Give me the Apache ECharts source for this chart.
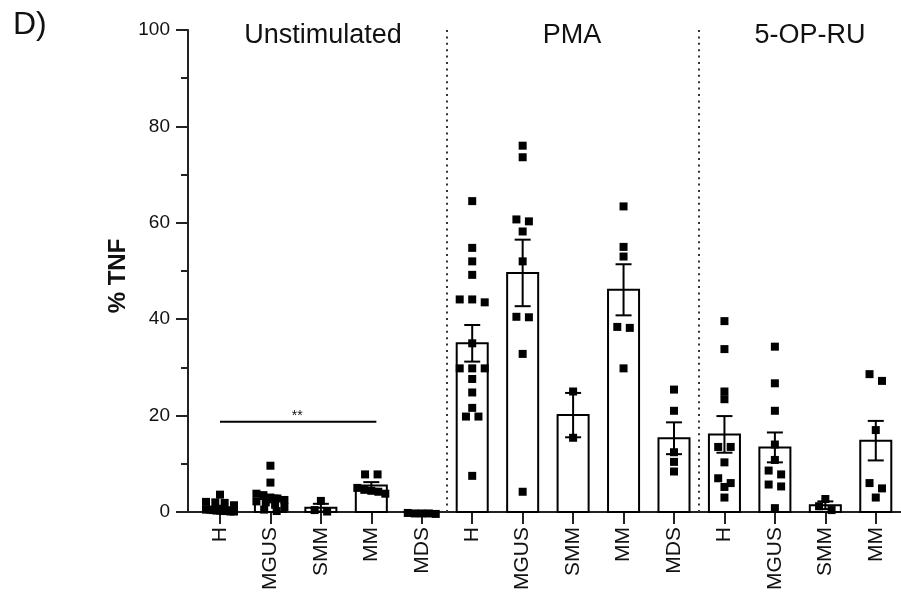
<!DOCTYPE html>
<html>
<head>
<meta charset="utf-8">
<script src="https://cdn.jsdelivr.net/npm/echarts@6/dist/echarts.min.js"></script>
<style>
  html, body { margin: 0; padding: 0; background: #fff; }
  #chart { width: 901px; height: 608px; }
</style>
</head>
<body>
<div id="chart"></div>
<script>
// Category axis: three stimulation conditions, patient groups within each
const categories = ['H', 'MGUS', 'SMM', 'MM', 'MDS', 'H', 'MGUS', 'SMM', 'MM', 'MDS', 'H', 'MGUS', 'SMM', 'MM'];
const conditions = ['Unstimulated', 'PMA', '5-OP-RU'];
const yTicks = [0, 20, 40, 60, 80, 100];

// Bar heights (mean % TNF) and error bars (SEM), one per category
const meanTNF = [1.0, 2.7, 0.9, 5.5, -0.3, 35.0, 49.6, 20.1, 46.1, 15.3, 16.1, 13.4, 1.4, 14.8];
const semTNF  = [0.3, 0.7, 0.8, 0.7, 0.05, 3.8, 6.9, 4.6, 5.3, 3.3, 3.8, 3.1, 0.8, 4.1];

// Individual donors, % TNF
const unstimPoints = [
  [3.6, 2.1, 2.0, 1.9, 1.4, 0.5, 0.5, 0.4, 0.3, 0.3, 0.2, 0.2, 0.1, 0.1],
  [9.6, 6.1, 3.8, 3.5, 3.0, 2.8, 2.5, 2.2, 2.0, 1.5, 1.0, 0.5, 0.2],
  [2.3, 0.4, 0.1],
  [7.8, 7.8, 5.0, 4.6, 4.4, 4.2, 3.8],
  [-0.2, -0.3, -0.3, -0.3, -0.4]
];
const pmaPoints = [
  [64.5, 54.8, 52.0, 49.2, 44.1, 44.1, 43.5, 35.0, 29.8, 29.8, 29.8, 27.6, 24.8, 21.6, 19.8, 19.8, 7.5],
  [76.0, 73.6, 60.7, 60.3, 58.2, 52.0, 40.5, 40.4, 32.8, 4.2],
  [25.0, 15.4],
  [63.4, 55.0, 53.0, 38.4, 38.2, 29.8],
  [25.4, 21.0, 12.4, 10.4, 8.4]
];
const opruPoints = [
  [39.6, 33.8, 25.0, 23.4, 13.5, 13.5, 10.3, 7.0, 6.0, 5.2, 3.0],
  [34.3, 26.7, 21.0, 14.0, 10.8, 8.6, 7.8, 5.7, 5.3, 0.8],
  [2.7, 1.2, 0.4],
  [28.6, 27.2, 17.0, 6.0, 4.9, 3.0]
];

// Significance bar between unstimulated H and MM
const sigFrom = 0, sigTo = 3.1, sigLevel = 18.7, sigText = '**';
// Boundaries between conditions
const dividers = [4.5, 9.5];

const FONT = '"Liberation Sans", Arial, Helvetica, sans-serif';
const INK = '#111';
const catIdx = categories.map((_, i) => i);

const chart = echarts.init(document.getElementById('chart'), null, { renderer: 'canvas' });

const baseOption = {
  animation: false,
  backgroundColor: '#fff',
  grid: { left: 188, right: 0, top: 30, bottom: 96, containLabel: false, outerBoundsMode: 'none' },
  xAxis: {
    type: 'value', min: -0.634, max: 13.5,
    axisLine: { show: true, onZero: false, lineStyle: { color: '#222', width: 2 } },
    axisTick: { show: true, customValues: catIdx, length: 12, lineStyle: { color: '#222', width: 2 } },
    axisLabel: {
      show: true, customValues: catIdx, rotate: 90, margin: 15,
      fontFamily: FONT, fontSize: 21, color: INK,
      formatter: v => categories[Math.round(v)]
    },
    splitLine: { show: false }
  },
  yAxis: {
    type: 'value', min: 0, max: 100, interval: 20,
    axisLine: { show: true, onZero: false, lineStyle: { color: '#222', width: 2 } },
    axisTick: { show: true, length: 12, lineStyle: { color: '#222', width: 2 } },
    minorTick: { show: true, splitNumber: 2, length: 7, lineStyle: { color: '#222', width: 2 } },
    axisLabel: { margin: 18, fontFamily: FONT, fontSize: 19, color: INK,
      customValues: yTicks },
    splitLine: { show: false }
  },
  series: [
    {
      type: 'custom', name: 'mean', z: 2, clip: false,
      data: meanTNF.map((m, i) => [i, m]),
      renderItem(params, api) {
        const x = api.value(0), m = api.value(1);
        const p0 = api.coord([x, 0]);
        const p1 = api.coord([x, m]);
        const w = api.size([1, 0])[0] * 0.615;
        return {
          type: 'rect',
          shape: { x: p0[0] - w / 2, y: Math.min(p0[1], p1[1]), width: w, height: Math.abs(p1[1] - p0[1]) },
          style: { fill: '#fff', stroke: '#000', lineWidth: 2 }
        };
      }
    },
    {
      type: 'line', name: 'dividers', z: 1, data: [],
      markLine: {
        silent: true, symbol: 'none', label: { show: false },
        lineStyle: { color: '#333', width: 2, type: [2, 4.4] },
        data: dividers.map(d => ({ xAxis: d }))
      }
    }
  ]
};
chart.setOption(baseOption);

// Spread overlapping donors sideways, GraphPad-style rows
const pxX = chart.convertToPixel({ xAxisIndex: 0 }, 1) - chart.convertToPixel({ xAxisIndex: 0 }, 0);
const pxY = chart.convertToPixel({ yAxisIndex: 0 }, 0) - chart.convertToPixel({ yAxisIndex: 0 }, 1);
const ROW_TOL = 7, STEP = 12.5, MAX_ROW = 28;
function swarm(values, cat) {
  const s = values.slice().sort((a, b) => b - a);
  const out = [];
  let i = 0;
  while (i < s.length) {
    let j = i;
    while (j + 1 < s.length && (s[i] - s[j + 1]) * pxY < ROW_TOL) j++;
    const n = j - i + 1;
    const step = n > 1 ? Math.min(STEP, MAX_ROW / (n - 1)) : 0;
    for (let k = 0; k < n; k++) {
      out.push([cat + ((k - (n - 1) / 2) * step) / pxX, s[i + k]]);
    }
    i = j + 1;
  }
  return out;
}
const allPoints = unstimPoints.concat(pmaPoints, opruPoints);
const scatterData = [];
allPoints.forEach((vals, c) => swarm(vals, c).forEach(p => scatterData.push(p)));

// Condition headers over their categories
const headerX = [323, 572, 810];

const sigPx = chart.convertToPixel({ gridIndex: 0 }, [(sigFrom + sigTo) / 2, sigLevel]);

chart.setOption({
  series: [
    {}, {},
    {
      type: 'scatter', name: 'donors', z: 3, clip: false,
      symbol: 'rect', symbolSize: 8,
      itemStyle: { color: '#000', opacity: 1 },
      data: scatterData
    },
    {
      type: 'custom', name: 'sem', z: 4, clip: false,
      data: meanTNF.map((m, i) => [i, m, semTNF[i]]),
      renderItem(params, api) {
        const x = api.value(0), m = api.value(1), e = api.value(2);
        const top = api.coord([x, m + e]);
        const bot = api.coord([x, m - e]);
        const half = 8;
        const st = { stroke: '#000', lineWidth: 2 };
        return {
          type: 'group',
          children: [
            { type: 'line', shape: { x1: top[0], y1: top[1], x2: bot[0], y2: bot[1] }, style: st },
            { type: 'line', shape: { x1: top[0] - half, y1: top[1], x2: top[0] + half, y2: top[1] }, style: st },
            { type: 'line', shape: { x1: bot[0] - half, y1: bot[1], x2: bot[0] + half, y2: bot[1] }, style: st }
          ]
        };
      }
    },
    {
      type: 'line', name: 'significance', z: 4,
      symbol: 'none',
      lineStyle: { color: '#000', width: 2 },
      data: [[sigFrom, sigLevel], [sigTo, sigLevel]]
    }
  ],
  graphic: [
    { type: 'text', left: 13, top: 9, style: { text: 'D)', fontFamily: FONT, fontSize: 32, fill: INK } },
    ...conditions.map((t, i) => ({
      type: 'text', x: headerX[i], y: 36,
      style: { text: t, fontFamily: FONT, fontSize: 27, fill: INK, align: 'center', verticalAlign: 'middle' }
    })),
    {
      type: 'text', x: 118, y: 276, rotation: Math.PI / 2,
      style: { text: '% TNF', fontFamily: FONT, fontSize: 24, fontWeight: 'bold', fill: INK, align: 'center', verticalAlign: 'middle' }
    },
    {
      type: 'text', x: sigPx[0] - 1, y: sigPx[1] - 6,
      style: { text: sigText, fontFamily: FONT, fontSize: 14, fill: INK, align: 'center', verticalAlign: 'middle' }
    }
  ]
});
</script>
</body>
</html>
